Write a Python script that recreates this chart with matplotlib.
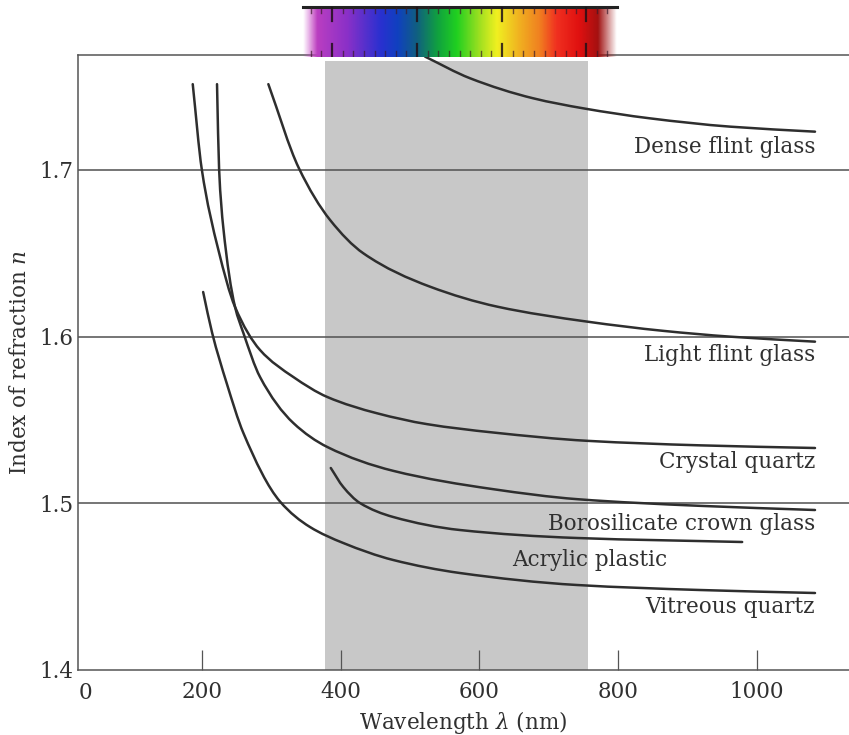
import numpy as np
import matplotlib
matplotlib.use("Agg")
import matplotlib.pyplot as plt
from matplotlib.colors import LinearSegmentedColormap, to_rgb
from matplotlib.path import Path
from matplotlib.patches import PathPatch

plt.rcParams['font.family'] = ['DejaVu Serif']
plt.rcParams['mathtext.fontset'] = 'custom'
plt.rcParams['mathtext.rm'] = 'DejaVu Serif'
plt.rcParams['mathtext.it'] = 'DejaVu Serif:italic'

# ---------------- data (wavelength nm, refractive index) ----------------
dense_flint_wl = [522, 587, 678, 750, 846, 962, 1084]
dense_flint_n = [1.768, 1.755, 1.743, 1.737, 1.731, 1.726, 1.723]

light_flint_wl = [296, 340, 385, 433, 529, 626, 756, 865, 962, 1084]
light_flint_n = [1.7515, 1.7011, 1.670, 1.650, 1.630, 1.618, 1.609, 1.6035, 1.600, 1.597]

crystal_quartz_wl = [187, 200, 224, 248, 284, 332, 381, 453, 525, 620, 756, 918, 1084]
crystal_quartz_n = [1.7515, 1.7005, 1.652, 1.6178, 1.592, 1.5758, 1.5638, 1.554, 1.5475, 1.5425, 1.5375, 1.5348, 1.5332]

borosilicate_wl = [222, 225, 231, 248, 260, 284, 332, 381, 476, 620, 741, 918, 1084]
borosilicate_n = [1.7515, 1.7005, 1.6657, 1.6178, 1.6022, 1.5758, 1.5482, 1.5338, 1.5195, 1.5085, 1.5025, 1.4985, 1.496]

acrylic_wl = [386, 404, 428, 476, 572, 741, 979]
acrylic_n = [1.5212, 1.5098, 1.5002, 1.4918, 1.484, 1.4792, 1.4768]

vitreous_wl = [202, 215, 236, 260, 313, 356, 404, 476, 572, 741, 918, 1084]
vitreous_n = [1.6268, 1.6022, 1.572, 1.5422, 1.501, 1.4858, 1.4762, 1.466, 1.4582, 1.451, 1.448, 1.4462]

labels = ["Dense flint glass", "Light flint glass", "Crystal quartz",
          "Borosilicate crown glass", "Acrylic plastic", "Vitreous quartz"]
label_x = [1084, 1084, 1084, 1084, 871, 1084]
label_y = [1.714, 1.589, 1.525, 1.4876, 1.466, 1.438]

visible_band = [378, 757]
grid_levels = [1.5, 1.6, 1.7]
xtick_vals = [200, 400, 600, 800, 1000]
xtick_labels = ["200", "400", "600", "800", "1000"]
ytick_vals = [1.4, 1.5, 1.6, 1.7]
ytick_labels = ["1.4", "1.5", "1.6", "1.7"]
xlim = (21.6, 1133)
ylim = (1.4, 1.769)

# spectrum strip (position along strip 0..1, colour)
spec_pos = [0.0, 0.032, 0.14, 0.245, 0.30, 0.363, 0.427, 0.49, 0.564, 0.618, 0.691, 0.755, 0.809, 0.882, 0.946, 1.0]
spec_col = ["#c848c8", "#c040c0", "#8a30c8", "#2a30d0", "#1040c0", "#106080", "#10a040", "#20d020",
            "#a0e020", "#f0f020", "#f0b020", "#f08020", "#f03020", "#e01010", "#a01010", "#a01010"]
spec_major = [0.092, 0.363, 0.634, 0.901]
spec_minor = [0.024, 0.058, 0.126, 0.160, 0.194, 0.228, 0.262, 0.296, 0.329,
              0.397, 0.431, 0.465, 0.499, 0.533, 0.566, 0.600,
              0.668, 0.702, 0.736, 0.770, 0.804, 0.837, 0.871, 0.935, 0.969]


def smooth_path(xs, ys):
    """Monotone cubic Hermite path through the points, drawn as Bezier segments."""
    x = np.asarray(xs, float)
    y = np.asarray(ys, float)
    h = np.diff(x)
    dl = np.diff(y) / h
    d = np.empty_like(x)
    d[0], d[-1] = dl[0], dl[-1]
    for k in range(1, len(x) - 1):
        if dl[k - 1] * dl[k] <= 0:
            d[k] = 0.0
        else:
            w1 = 2 * h[k] + h[k - 1]
            w2 = h[k] + 2 * h[k - 1]
            d[k] = (w1 + w2) / (w1 / dl[k - 1] + w2 / dl[k])
    verts = [(x[0], y[0])]
    codes = [Path.MOVETO]
    for k in range(len(x) - 1):
        verts += [(x[k] + h[k] / 3, y[k] + d[k] * h[k] / 3),
                  (x[k + 1] - h[k] / 3, y[k + 1] - d[k + 1] * h[k] / 3),
                  (x[k + 1], y[k + 1])]
        codes += [Path.CURVE4] * 3
    return Path(verts, codes)


# ---------------- figure ----------------
W, H = 849, 735
fig = plt.figure(figsize=(W / 100, H / 100), dpi=100)
ax = fig.add_axes([78 / W, (H - 670) / H, (W - 78) / W, (670 - 55) / H])

ax.set_xlim(*xlim)
ax.set_ylim(*ylim)

ax.axvspan(visible_band[0], visible_band[1], ymin=0, ymax=0.99, color="#c8c8c8", zorder=0, lw=0)
for g in grid_levels:
    ax.axhline(g, color="#505050", lw=1.1, zorder=1)

lc = "#2e2e2e"
lw = 1.8
series = [(dense_flint_wl, dense_flint_n), (light_flint_wl, light_flint_n),
          (crystal_quartz_wl, crystal_quartz_n), (borosilicate_wl, borosilicate_n),
          (acrylic_wl, acrylic_n), (vitreous_wl, vitreous_n)]
for wl, n in series:
    ax.add_patch(PathPatch(smooth_path(wl, n), facecolor='none', edgecolor=lc, lw=lw,
                           capstyle='round', joinstyle='round', zorder=3))

fs = 15.5
tc = "#303030"
for t, x, y in zip(labels, label_x, label_y):
    ax.text(x, y, t, ha='right', va='center', fontsize=fs, color=tc, zorder=4)

ax.spines['right'].set_visible(False)
for s in ['left', 'bottom', 'top']:
    ax.spines[s].set_color("#555555")
    ax.spines[s].set_linewidth(1.1)

ax.set_xticks(xtick_vals)
ax.set_xticklabels(xtick_labels)
ax.set_yticks(ytick_vals)
ax.set_yticklabels(ytick_labels)
ax.tick_params(axis='x', direction='in', length=14.5, width=0.9, color="#555555",
               labelsize=fs, pad=8, labelcolor=tc)
ax.tick_params(axis='y', length=0, labelsize=fs, pad=3, labelcolor=tc)
ax.text(xlim[0] + 1, -0.020, "0", transform=ax.get_xaxis_transform(), ha='left', va='top',
        fontsize=fs, color=tc)

ax.set_xlabel(r"Wavelength $\lambda$ (nm)", fontsize=fs, color=tc, labelpad=4)
ax.set_ylabel(r"Index of refraction $n$", fontsize=fs, color=tc, labelpad=6)

# ---------------- spectrum strip ----------------
sax = fig.add_axes([303 / W, (H - 57) / H, (617 - 303) / W, (57 - 7) / H])
cmap = LinearSegmentedColormap.from_list("spec", list(zip(spec_pos, [to_rgb(c) for c in spec_col])))
u = np.linspace(0, 1, 600)
rgba = cmap(u)
fade = np.clip(np.minimum((u - 0.0) / 0.045, (1.0 - u) / 0.06), 0, 1)
rgba[:, 3] = fade
img = np.repeat(rgba[None, :, :], 20, axis=0)
sax.imshow(img, extent=[0, 1, 0, 1], aspect='auto', interpolation='bilinear')
sax.set_xlim(0, 1)
sax.set_ylim(0, 1)
sax.axhline(1.0, color="#222222", lw=2.2, clip_on=False)
for m in spec_minor:
    sax.plot([m, m], [1, 0.88], color="#3a1a2a", lw=1.0, alpha=0.7)
    sax.plot([m, m], [0, 0.12], color="#3a1a2a", lw=1.0, alpha=0.7)
for m in spec_major:
    sax.plot([m, m], [1, 0.72], color="#201018", lw=1.6, alpha=0.85)
    sax.plot([m, m], [0, 0.26], color="#201018", lw=1.6, alpha=0.85)
sax.axis('off')

fig.savefig("out.png", dpi=100)
